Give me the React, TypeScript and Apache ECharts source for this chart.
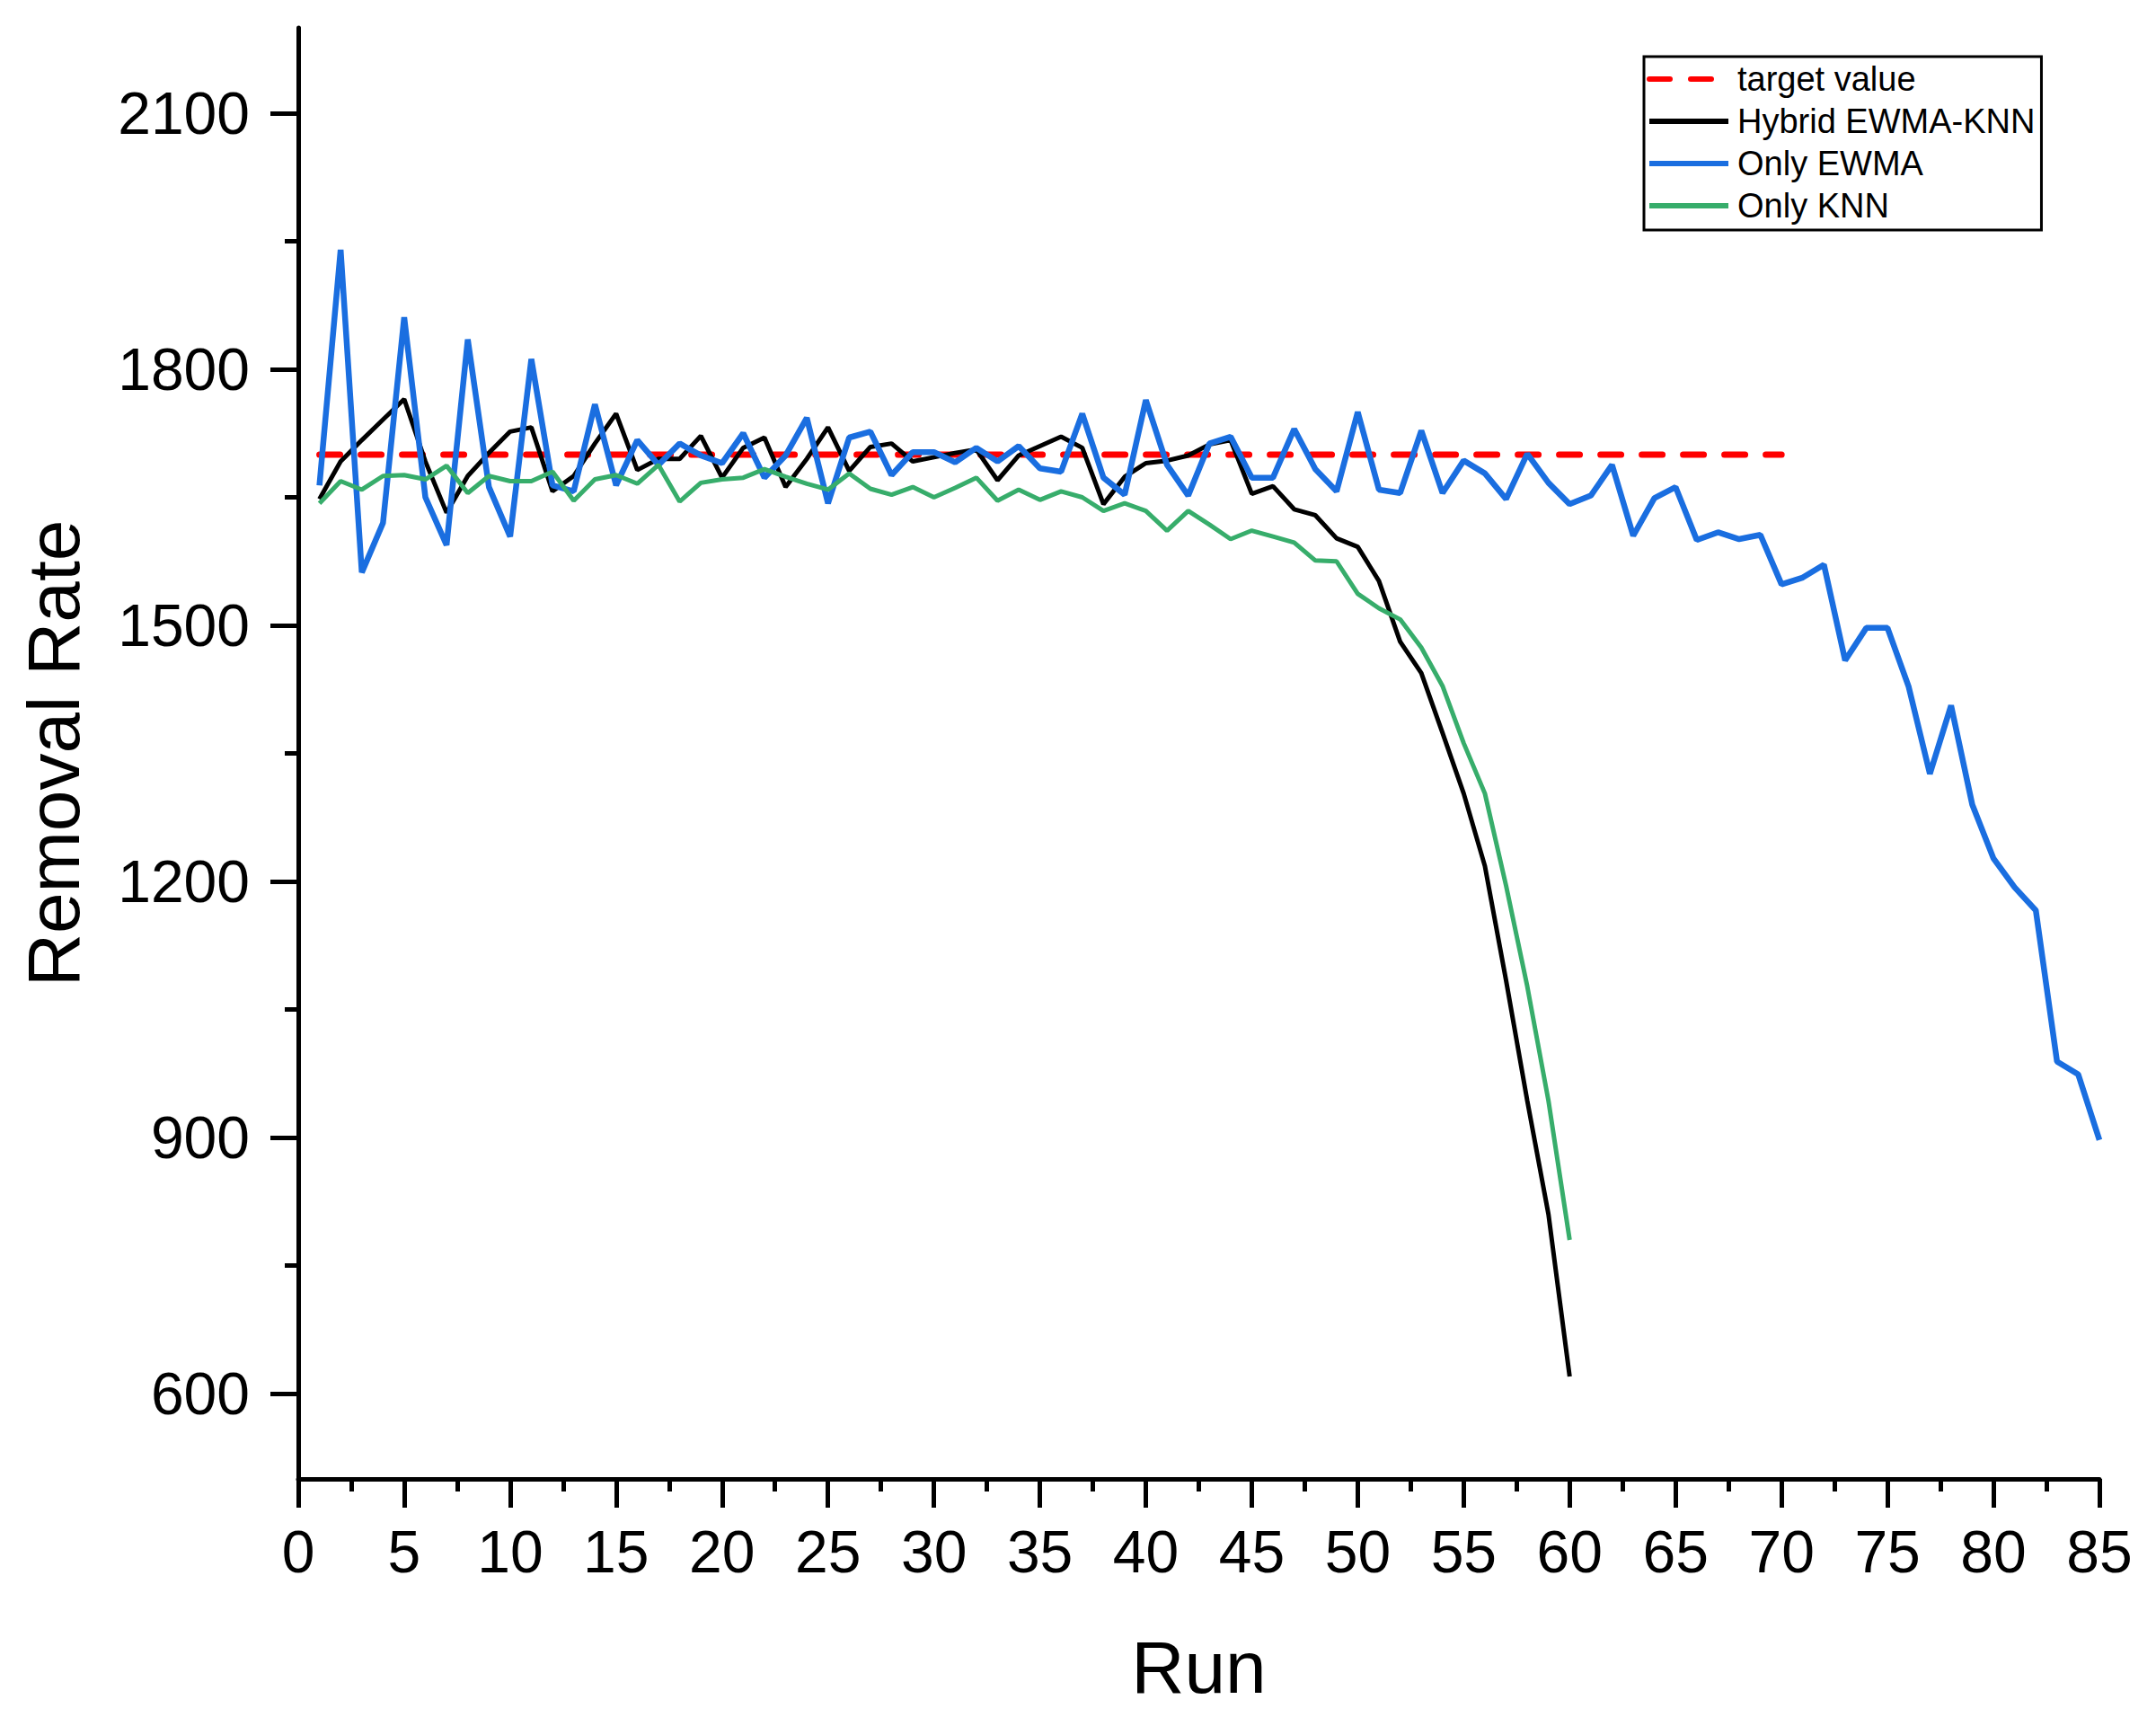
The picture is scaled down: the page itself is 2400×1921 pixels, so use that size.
import React, { useEffect, useRef } from 'react';
import * as echarts from 'echarts';

// Removal rate per run
const HYBRID = [
  1648, 1692, 1717, 1741, 1765, 1692, 1632, 1675, 1702, 1727,
  1732, 1657, 1675, 1713, 1748, 1682, 1695, 1695, 1722, 1673,
  1708, 1720, 1662, 1695, 1732, 1681, 1709, 1713, 1692, 1697,
  1702, 1706, 1670, 1699, 1710, 1721, 1708, 1642, 1674, 1690,
  1693, 1699, 1712, 1717, 1654, 1663, 1636, 1629, 1602, 1592,
  1552, 1481, 1444, 1374, 1303, 1218, 1084, 943, 810, 620,
];

const ONLY_EWMA = [
  1664, 1940, 1562, 1620, 1861, 1650, 1594, 1835, 1662, 1604,
  1812, 1664, 1657, 1759, 1664, 1717, 1688, 1713, 1699, 1690,
  1725, 1673, 1699, 1743, 1643, 1720, 1727, 1676, 1703, 1703,
  1691, 1708, 1692, 1710, 1684, 1680, 1748, 1673, 1653, 1764,
  1688, 1652, 1713, 1721, 1673, 1673, 1730, 1683, 1657, 1750,
  1659, 1655, 1728, 1655, 1693, 1678, 1648, 1701, 1667, 1642,
  1652, 1688, 1605, 1649, 1662, 1600, 1609, 1601, 1606, 1548,
  1556, 1571, 1459, 1497, 1497, 1428, 1326, 1406, 1290, 1227,
  1193, 1166, 989, 974, 897,
];

const ONLY_KNN = [
  1643, 1669, 1659, 1675, 1676, 1671, 1687, 1655, 1675, 1669,
  1669, 1680, 1646, 1671, 1676, 1666, 1688, 1645, 1667, 1671,
  1673, 1683, 1674, 1666, 1659, 1678, 1660, 1653, 1662, 1650,
  1661, 1673, 1646, 1659, 1647, 1657, 1650, 1634, 1643, 1634,
  1611, 1634, 1618, 1601, 1611, 1604, 1597, 1576, 1575, 1537,
  1520, 1507, 1474, 1429, 1362, 1303, 1195, 1077, 943, 780,
];

const TARGET_VALUE = 1700;
const TARGET_RUNS = [1, 70];

const Y_MAJOR = [600, 900, 1200, 1500, 1800, 2100];
const Y_MINOR = [750, 1050, 1350, 1650, 1950];

const FONT = 'Arial, "Liberation Sans", sans-serif';

const toPoints = (values: number[]) => values.map((v, i) => [i + 1, v]);

export default function App() {
  const chartRef = useRef<HTMLDivElement>(null);

  useEffect(() => {
    document.body.style.margin = '0';
    if (!chartRef.current) return;
    const chart = echarts.init(chartRef.current, null, { renderer: 'svg' });

    const axisLine = { show: true, lineStyle: { color: '#000', width: 5 } };

    chart.setOption({
      animation: false,
      backgroundColor: '#fff',
      grid: { left: 332, right: 63, top: 31, bottom: 275, outerBoundsMode: 'none' },
      legend: {
        orient: 'vertical',
        left: 1830,
        top: 63,
        padding: [6, 7, 8, 3],
        borderColor: '#000',
        borderWidth: 3,
        itemWidth: 88,
        itemHeight: 38,
        itemGap: 9,
        // hide the symbol drawn on top of each legend line
        itemStyle: { opacity: 0, borderWidth: 0 },
        lineStyle: { width: 6 },
        textStyle: { fontSize: 38, color: '#000', fontFamily: FONT, padding: [0, 0, 0, 5] },
        data: ['target value', 'Hybrid EWMA-KNN', 'Only EWMA', 'Only KNN'],
      },
      xAxis: {
        type: 'value',
        min: 0,
        max: 85,
        interval: 5,
        name: 'Run',
        nameLocation: 'middle',
        nameGap: 168,
        nameTextStyle: { fontSize: 82, color: '#000', fontFamily: FONT },
        axisLine,
        axisTick: { show: true, length: 32, lineStyle: { color: '#000', width: 5 } },
        minorTick: { show: true, splitNumber: 2, length: 14, lineStyle: { color: '#000', width: 5 } },
        axisLabel: { fontSize: 66, color: '#000', fontFamily: FONT, margin: 48 },
        splitLine: { show: false },
        minorSplitLine: { show: false },
      },
      yAxis: [
        {
          type: 'value',
          min: 500,
          max: 2200,
          name: 'Removal Rate',
          nameLocation: 'middle',
          nameGap: 232,
          nameTextStyle: { fontSize: 82, color: '#000', fontFamily: FONT },
          axisLine,
          axisTick: { show: true, length: 31, customValues: Y_MAJOR, lineStyle: { color: '#000', width: 5 } },
          axisLabel: {
            fontSize: 66,
            color: '#000',
            fontFamily: FONT,
            margin: 54,
            customValues: Y_MAJOR,
            formatter: (v: number) => String(v),
          },
          splitLine: { show: false },
        },
        {
          type: 'value',
          min: 500,
          max: 2200,
          position: 'left',
          axisLine: { show: false },
          axisTick: { show: true, length: 15, customValues: Y_MINOR, lineStyle: { color: '#000', width: 5 } },
          axisLabel: { show: false },
          splitLine: { show: false },
        },
      ],
      series: [
        {
          name: 'target value',
          type: 'line',
          data: TARGET_RUNS.map((r) => [r, TARGET_VALUE]),
          symbol: 'none',
          lineStyle: { color: '#ff0000', width: 7, type: [23, 23], cap: 'round' },
          itemStyle: { color: '#ff0000' },
        },
        {
          name: 'Hybrid EWMA-KNN',
          type: 'line',
          data: toPoints(HYBRID),
          symbol: 'none',
          lineStyle: { color: '#000000', width: 5 },
          itemStyle: { color: '#000000' },
        },
        {
          name: 'Only EWMA',
          type: 'line',
          data: toPoints(ONLY_EWMA),
          symbol: 'none',
          lineStyle: { color: '#1a6ee0', width: 6.5 },
          itemStyle: { color: '#1a6ee0' },
        },
        {
          name: 'Only KNN',
          type: 'line',
          data: toPoints(ONLY_KNN),
          symbol: 'none',
          lineStyle: { color: '#37ad6b', width: 5 },
          itemStyle: { color: '#37ad6b' },
        },
      ],
    });

    return () => chart.dispose();
  }, []);

  return <div ref={chartRef} style={{ width: 2400, height: 1921 }} />;
}
